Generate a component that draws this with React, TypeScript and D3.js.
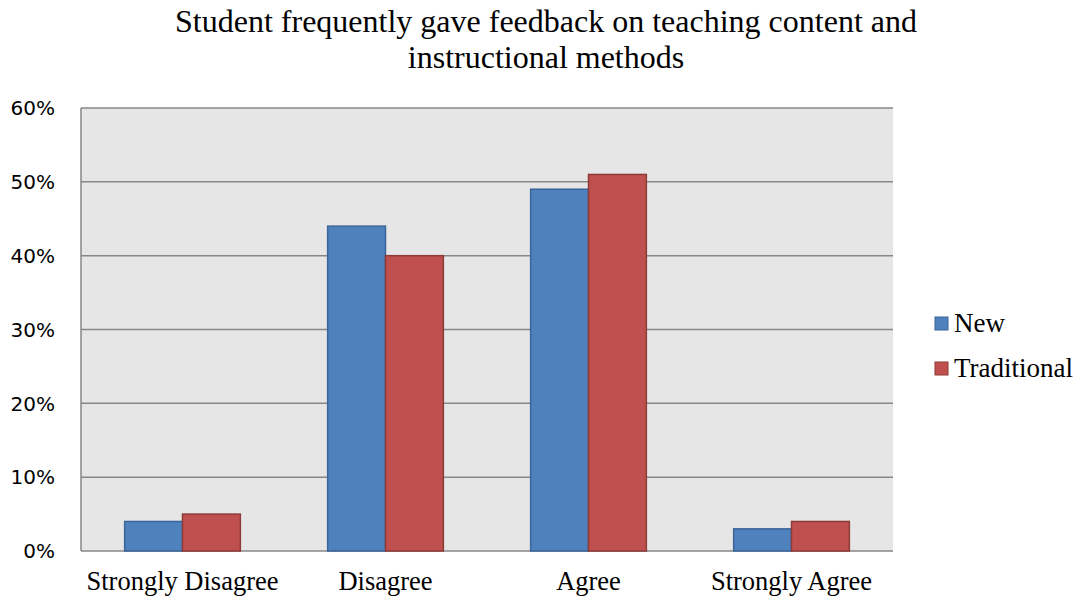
import * as d3 from 'd3';

const categories = ['Strongly Disagree', 'Disagree', 'Agree', 'Strongly Agree'];
const seriesNames = ['New', 'Traditional'];
const newValues = [4, 44, 49, 3];
const traditionalValues = [5, 40, 51, 4];
const yTicks = [0, 10, 20, 30, 40, 50, 60];

const colors = ['#4F81BD', '#C0504D'];
const strokes = ['#3B659A', '#8E3A38'];

export default function App() {
  const W = 1075;
  const H = 598;
  const plot = { left: 81, right: 893, top: 108, bottom: 551 };

  const x0 = d3
    .scaleBand<string>()
    .domain(categories)
    .range([plot.left, plot.right])
    .paddingInner(0.43)
    .paddingOuter(0.215);
  const x1 = d3.scaleBand<string>().domain(seriesNames).range([0, x0.bandwidth()]);
  const y = d3.scaleLinear().domain([0, 60]).range([plot.bottom, plot.top]);

  const values = [newValues, traditionalValues];
  const serif = '"Liberation Serif", "Times New Roman", serif';
  const sans = '"DejaVu Sans", Verdana, sans-serif';

  return (
    <svg
      width={W}
      height={H}
      style={{ position: 'absolute', left: 0, top: 0, background: '#fff' }}
    >
      {/* Title */}
      <text x={546} y={32} textAnchor="middle" fontFamily={serif} fontSize={32} fill="#000">
        Student frequently gave feedback on teaching content and
      </text>
      <text x={546} y={68} textAnchor="middle" fontFamily={serif} fontSize={32} fill="#000">
        instructional methods
      </text>

      {/* Plot background */}
      <rect
        x={plot.left}
        y={plot.top}
        width={plot.right - plot.left}
        height={plot.bottom - plot.top}
        fill="#E6E6E6"
      />

      {/* Grid + y labels */}
      {yTicks.map((t) => (
        <g key={t}>
          <line
            x1={plot.left}
            x2={plot.right}
            y1={y(t)}
            y2={y(t)}
            stroke="#878787"
            strokeWidth={1.5}
          />
          <text
            x={55}
            y={y(t)}
            dy="0.36em"
            textAnchor="end"
            fontFamily={sans}
            fontSize={20}
            fill="#000"
          >
            {t}%
          </text>
        </g>
      ))}
      <line
        x1={plot.left}
        x2={plot.left}
        y1={plot.top}
        y2={plot.bottom}
        stroke="#878787"
        strokeWidth={1.5}
      />

      {/* Bars */}
      {categories.map((c, i) => (
        <g key={c} transform={`translate(${x0(c)},0)`}>
          {seriesNames.map((s, j) => (
            <rect
              key={s}
              x={x1(s)!}
              y={y(values[j][i])}
              width={x1.bandwidth()}
              height={y(0) - y(values[j][i])}
              fill={colors[j]}
              stroke={strokes[j]}
              strokeWidth={1.5}
            />
          ))}
        </g>
      ))}

      {/* X labels */}
      {categories.map((c) => (
        <text
          key={c}
          x={x0(c)! + x0.bandwidth() / 2}
          y={590}
          textAnchor="middle"
          fontFamily={serif}
          fontSize={26.5}
          fill="#000"
        >
          {c}
        </text>
      ))}

      {/* Legend */}
      {seriesNames.map((s, j) => (
        <g key={s} transform={`translate(935,${317 + j * 45})`}>
          <rect width={13} height={13} fill={colors[j]} stroke={strokes[j]} strokeWidth={1} />
          <text x={19} y={15} fontFamily={serif} fontSize={27} fill="#000">
            {s}
          </text>
        </g>
      ))}
    </svg>
  );
}
